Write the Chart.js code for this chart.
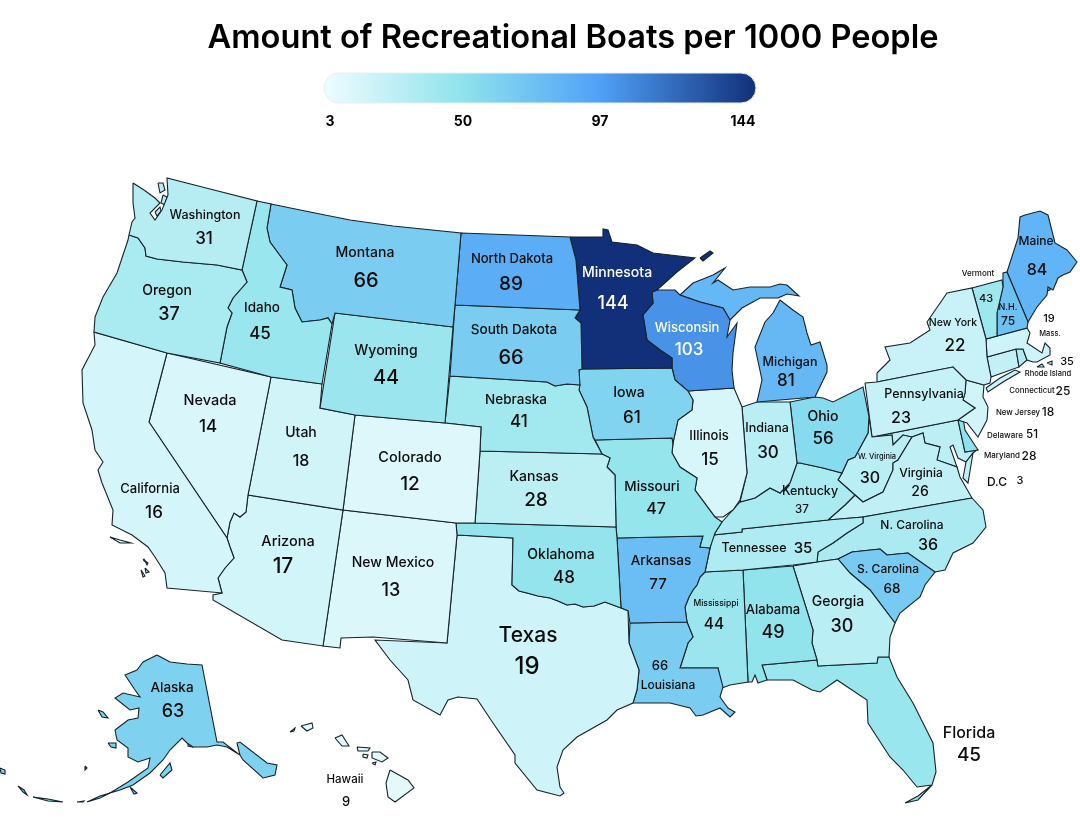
<!DOCTYPE html>
<html>
<head>
<meta charset="utf-8">
<title>Recreational Boats per 1000 People</title>
<script src="https://cdn.jsdelivr.net/npm/chart.js@4"></script>
<style>
  html, body { margin: 0; padding: 0; background: #fff; }
  canvas { display: block; }
</style>
</head>
<body>
<canvas id="boatMap" width="1080" height="831"></canvas>
<script>
// values per state
const stateNames = ['Washington','Oregon','California','Idaho','Nevada','Montana','Wyoming','Utah','Arizona','Colorado','New Mexico',
  'North Dakota','South Dakota','Nebraska','Kansas','Oklahoma','Texas','Minnesota','Iowa','Missouri','Arkansas','Louisiana',
  'Wisconsin','Illinois','Michigan','Indiana','Ohio','Kentucky','Tennessee','Mississippi','Alabama','Georgia','Florida',
  'S. Carolina','N. Carolina','Virginia','W. Virginia','Pennsylvania','New York','Vermont','N.H.','Maine','Mass.','Rhode Island',
  'Connecticut','New Jersey','Delaware','Maryland','D.C','Alaska','Hawaii'];
const stateValues = [31,37,16,45,14,66,44,18,17,12,13,89,66,41,28,48,19,144,61,47,77,66,103,15,81,30,56,37,35,44,49,30,45,68,36,26,30,23,22,43,75,84,19,35,25,18,51,28,3,63,9];

const legendTicks = [3,50,97,144];
const legendColors = ['#effcfe','#8fe3ec','#50a2f8','#12307a'];

const titleText = 'Amount of Recreational Boats per 1000 People';

// label placement: name x, y, size, value x, y, size (same order as stateNames)
const labelSpots = [
  [205,215,12.5,204,239,17],[167,291,14,169,315,18],[150,489,13,154,513,17],[262,308,13.5,260,334,17],[210,401,14.5,208,427,17],
  [365,253,14,366,281,20],[386,351,14,386,378,20],[301,433,14,301,461,16],[288,542,14.5,283,567,21],[410,458,14.5,410,484,19],[393,563,14,391,591,18],
  [512,259,13,511,284,19],[514,330,13.5,511,358,20],[516,400,13.5,519,422,17],[534,477,14,536,500,19],[561,555,14,564,578,17],[528,636,21,527,667,24],
  [617,273,14,613,304,18],[629,393,14,632,418,17],[652,487,13.5,656,509,16],[661,561,13.5,658,584,15],[668,685,12,660,666,13],
  [687,328,13,689,350,17],[709,436,13,710,460,17],[790,362,12.5,786,381,17],[767,428,12.5,768,453,17],[823,417,14,823,439,17],
  [810,491,12.5,802,510,11.5],[754,548,12.5,803,548,15],[716,603,8.5,714,624,15.5],[773,610,13,773,633,18],[838,602,14,842,627,18],[969,733,16,969,755,19],
  [888,569,12,892,589,13.5],[912,525,12,928,545,16],[921,473,12,920,492,14],[877,457,7.5,870,478,16],[924,394,12.5,901,418,16],[953,323,10.5,955,346,17],
  [978,274,8,986,299,11],[1008,307,9,1008,321,12],[1036,241,12,1037,270,16],[1050,334,7.5,1049,319,11],[1048,374,7.5,1067,362,11],
  [1032,391,7.8,1063,391,12],[1018,413,7.8,1048,412,12],[1005,436,8,1032,435,11.5],[1002,456,8,1029,456,12],[997,482,12,1020,481,11],
  [172,688,13.5,173,712,18],[345,780,11.5,346,802,13]
];

// state outlines, in map units
const outlines = {
  'Washington': [[[133,183],[144,190],[155,198],[160,203],[150,213],[155,220],[162,210],[168,195],[167,178],[210,189],[257,201],[242,270],[217,265],[183,262],[157,259],[146,256],[145,248],[138,238],[129,235],[132,222],[135,218],[133,203]],
    [[158,183],[163,183],[165,190],[160,193]],[[163,195],[167,197],[165,205],[161,203]],[[155,212],[160,207],[161,211],[157,216]]],
  'Oregon': [[[129,235],[138,238],[145,248],[146,256],[157,259],[183,262],[217,265],[242,270],[247,282],[233,298],[228,308],[232,313],[227,327],[220,363],[167,353],[94,332],[95,317],[103,297],[117,273],[128,240]]],
  'California': [[[94,332],[167,353],[149,422],[227,538],[230,547],[234,558],[225,568],[218,578],[222,593],[167,588],[165,573],[155,557],[148,547],[132,535],[112,525],[113,510],[102,483],[98,470],[103,462],[95,450],[92,430],[83,403],[82,370],[95,345]],
    [[110,537],[120,540],[131,543],[120,543]],[[145,561],[148,563],[147,565]],[[143,560],[144,559],[146,562]],[[145,568],[149,572],[146,573]],[[141,570],[145,576],[143,577]],[[99,432],[102,435],[100,445],[97,440]]],
  'Idaho': [[[257,201],[271,204],[267,228],[270,242],[287,265],[280,287],[292,290],[295,308],[302,322],[320,320],[328,318],[332,324],[322,384],[271,377],[220,363],[227,327],[232,313],[228,308],[233,298],[247,282],[242,270]]],
  'Nevada': [[[167,353],[271,377],[248,495],[246,512],[240,517],[234,513],[230,522],[227,538],[149,422]]],
  'Montana': [[[271,204],[310,212],[350,220],[393,226],[461,233],[455,305],[453,327],[335,313],[332,324],[328,318],[320,320],[302,322],[295,308],[292,290],[280,287],[287,265],[270,242],[267,228]]],
  'Wyoming': [[[335,313],[453,327],[445,423],[355,415],[320,408]]],
  'Utah': [[[271,377],[322,384],[320,408],[355,415],[343,510],[248,495]]],
  'Arizona': [[[248,495],[343,510],[323,646],[282,640],[213,600],[213,595],[222,593],[218,578],[225,568],[234,558],[230,547],[227,538],[230,522],[234,513],[240,517],[246,512]]],
  'Colorado': [[[355,415],[445,423],[481,427],[480,451],[475,523],[456,523],[343,510]]],
  'New Mexico': [[[343,510],[456,523],[457,535],[447,643],[373,637],[341,638],[340,648],[323,646]]],
  'North Dakota': [[[461,233],[570,237],[576,260],[580,310],[455,305]]],
  'South Dakota': [[[455,305],[580,310],[575,318],[581,323],[582,369],[579,370],[580,385],[567,384],[555,386],[547,382],[450,376]]],
  'Nebraska': [[[450,376],[547,382],[555,386],[567,384],[580,385],[579,390],[587,407],[593,437],[602,454],[480,451],[481,427],[445,423]]],
  'Kansas': [[[480,451],[602,454],[610,458],[607,467],[615,475],[616,527],[475,523]]],
  'Oklahoma': [[[456,523],[475,523],[616,527],[617,538],[621,608],[605,602],[594,606],[583,607],[575,604],[567,605],[558,601],[550,598],[538,596],[527,593],[519,591],[512,585],[513,538],[457,535]]],
  'Texas': [[[457,535],[513,538],[512,585],[519,591],[527,593],[538,596],[550,598],[558,601],[567,605],[575,604],[583,607],[594,606],[605,602],[621,608],[628,611],[629,643],[639,670],[637,690],[633,703],[617,710],[607,720],[577,737],[563,750],[557,767],[560,787],[564,793],[560,796],[537,790],[515,763],[515,755],[493,723],[477,699],[458,697],[448,700],[440,715],[413,700],[408,680],[390,660],[375,640],[447,643]]],
  'Minnesota': [[[570,237],[603,237],[603,229],[608,230],[612,242],[637,245],[653,253],[670,255],[695,258],[677,272],[657,290],[652,292],[653,303],[643,315],[647,340],[660,350],[672,358],[672,368],[582,369],[581,323],[575,318],[580,310],[576,260]],
    [[700,258],[710,251],[713,253],[703,261]]],
  'Iowa': [[[579,370],[582,369],[672,368],[675,380],[688,391],[693,400],[692,410],[678,420],[673,443],[672,438],[595,440],[593,437],[587,407],[579,390]]],
  'Missouri': [[[595,440],[672,438],[673,443],[672,453],[680,467],[697,478],[695,490],[715,517],[722,522],[715,533],[710,548],[700,547],[703,536],[617,538],[616,527],[615,475],[607,467],[610,458],[602,454]]],
  'Arkansas': [[[617,538],[703,536],[700,547],[710,548],[705,572],[700,577],[697,585],[693,590],[689,597],[685,607],[686,615],[687,622],[630,623],[628,611],[621,608]]],
  'Louisiana': [[[630,623],[687,622],[693,637],[688,643],[680,668],[718,668],[723,687],[720,697],[728,708],[735,712],[730,717],[720,708],[703,715],[696,716],[690,708],[670,703],[633,703],[637,690],[639,670],[629,643]]],
  'Wisconsin': [[[657,290],[675,290],[680,295],[700,302],[723,308],[730,320],[727,337],[737,323],[733,353],[732,370],[734,388],[688,391],[675,380],[672,368],[672,358],[660,350],[647,340],[643,315],[653,303],[652,292]]],
  'Illinois': [[[688,391],[734,388],[742,407],[747,473],[740,500],[733,510],[723,517],[715,517],[695,490],[697,478],[680,467],[672,453],[673,443],[678,420],[692,410],[693,400]]],
  'Michigan': [[[680,295],[693,283],[713,275],[725,268],[713,283],[718,280],[733,290],[750,287],[770,287],[780,284],[787,285],[799,296],[787,294],[778,298],[760,298],[742,308],[730,320],[723,308],[700,302]],
    [[773,313],[780,300],[793,310],[803,317],[807,333],[811,345],[820,342],[827,365],[827,372],[815,397],[757,402],[762,380],[755,347],[765,322]]],
  'Indiana': [[[742,407],[757,402],[790,402],[797,463],[790,483],[780,493],[770,488],[755,498],[740,502],[747,473]]],
  'Ohio': [[[790,402],[815,397],[823,398],[833,402],[863,387],[869,417],[868,433],[855,457],[848,460],[842,473],[823,468],[800,463],[797,463]]],
  'Kentucky': [[[797,463],[800,463],[823,468],[842,473],[838,480],[846,487],[855,495],[845,505],[828,520],[742,529],[742,532],[713,535],[715,533],[722,522],[740,502],[755,498],[770,488],[780,493],[790,483]]],
  'Tennessee': [[[863,517],[863,523],[847,533],[833,543],[818,552],[817,562],[793,565],[743,570],[705,572],[713,535],[742,532],[742,529],[828,520]]],
  'Mississippi': [[[705,572],[743,570],[748,682],[730,685],[722,688],[718,668],[680,668],[688,643],[693,637],[687,622],[686,615],[685,607],[689,597],[693,590],[697,585],[700,577]]],
  'Alabama': [[[743,570],[793,566],[813,630],[812,643],[817,660],[762,665],[767,680],[758,683],[755,675],[752,682],[748,682]]],
  'Georgia': [[[793,566],[817,562],[838,559],[850,573],[870,590],[895,623],[890,637],[889,657],[878,657],[877,663],[818,666],[817,660],[812,643],[813,630]]],
  'Florida': [[[762,665],[817,660],[818,666],[877,663],[878,657],[889,657],[897,677],[913,703],[933,743],[936,772],[932,785],[917,787],[903,770],[890,757],[877,737],[868,723],[867,700],[837,680],[820,692],[812,690],[793,680],[767,680]],
    [[905,803],[918,796],[932,785],[918,800]]],
  'S. Carolina': [[[838,559],[852,552],[880,549],[887,555],[908,553],[935,572],[925,585],[920,597],[900,613],[895,623],[870,590],[850,573]]],
  'N. Carolina': [[[972,498],[983,510],[986,527],[973,543],[953,553],[945,570],[935,572],[908,553],[887,555],[880,549],[852,552],[838,559],[817,562],[818,552],[833,543],[847,533],[863,523],[863,517]]],
  'Virginia': [[[855,495],[863,502],[883,492],[893,470],[893,463],[898,460],[912,437],[923,433],[925,443],[940,447],[937,460],[957,467],[960,477],[972,498],[863,517],[828,520],[845,505]],
    [[973,453],[968,483],[963,478],[966,462]]],
  'W. Virginia': [[[869,417],[872,437],[892,435],[893,445],[903,435],[912,437],[898,460],[893,463],[893,470],[883,492],[863,502],[855,495],[846,487],[838,480],[842,473],[848,460],[855,457],[868,433]]],
  'Pennsylvania': [[[865,383],[877,382],[953,367],[966,380],[965,393],[963,400],[975,408],[958,420],[872,437]]],
  'New York': [[[877,382],[877,373],[890,360],[885,347],[910,343],[930,330],[927,322],[947,293],[972,288],[980,317],[986,339],[987,357],[991,377],[990,383],[984,385],[966,380],[953,367]],
    [[986,388],[1000,378],[1015,370],[1020,372],[1003,382],[988,392]]],
  'Vermont': [[[972,288],[1002,280],[1003,287],[997,313],[997,336],[986,339],[980,317]]],
  'N.H.': [[[1003,287],[1003,273],[1007,272],[1028,322],[1027,328],[997,336],[997,313]]],
  'Maine': [[[1007,272],[1018,238],[1020,217],[1025,215],[1040,211],[1048,215],[1055,243],[1067,250],[1077,262],[1070,272],[1063,275],[1058,278],[1053,290],[1048,287],[1047,295],[1037,307],[1028,322]],
    [[1050,282],[1055,279],[1056,283],[1052,286]],[[1047,286],[1051,286],[1050,290],[1047,291]]],
  'Mass.': [[[986,339],[997,336],[1027,328],[1030,333],[1027,343],[1042,353],[1045,343],[1050,348],[1050,355],[1037,362],[1033,362],[1027,360],[1023,349],[1016,349],[987,357]],
    [[1037,367],[1042,364],[1044,367]],[[1047,363],[1052,361],[1052,365]]],
  'Rhode Island': [[[1016,349],[1023,349],[1027,360],[1019,367]]],
  'Connecticut': [[[987,357],[1016,349],[1019,367],[991,377]]],
  'New Jersey': [[[966,380],[984,385],[983,397],[988,407],[987,420],[978,437],[967,423],[958,420],[975,408],[963,400],[965,393]]],
  'Delaware': [[[958,420],[963,418],[965,430],[978,450],[965,452]]],
  'Maryland': [[[872,437],[958,420],[965,452],[977,450],[973,453],[966,462],[958,458],[953,445],[950,447],[957,467],[937,460],[940,447],[925,443],[923,433],[912,437],[903,435],[893,445],[892,435]]],
  'D.C': [],
  'Alaska': [[[157,655],[170,662],[187,664],[202,665],[217,742],[223,742],[240,755],[243,760],[263,778],[275,775],[277,765],[267,763],[240,742],[237,743],[240,755],[227,747],[217,745],[207,747],[193,747],[187,743],[182,738],[170,750],[163,760],[150,773],[133,785],[120,790],[110,793],[128,782],[148,768],[150,758],[138,762],[128,757],[128,748],[117,740],[115,730],[128,720],[138,718],[139,708],[130,710],[115,698],[123,693],[140,697],[135,690],[125,675],[137,670],[143,662]],
    [[98,710],[103,712],[108,718],[102,717]],[[108,743],[116,743],[116,748],[111,747]],[[160,775],[170,763],[172,770],[163,778]],
    [[33,797],[48,799],[63,802],[48,801]],[[77,802],[84,801],[83,802]],[[87,802],[100,796],[110,793],[100,798]],[[18,786],[24,790],[27,795],[23,792]],[[0,768],[5,770],[5,774],[1,773]],[[85,766],[87,768],[85,770]],[[130,787],[137,793],[134,794]],
    [[188,741],[194,742],[193,747],[188,746]],[[245,752],[252,757],[250,760],[244,756]],[[255,762],[262,767],[259,770],[253,765]],[[265,770],[272,772],[268,775]]],
  'Hawaii': [[[390,770],[408,780],[414,788],[395,802],[388,797],[386,783]],
    [[372,752],[380,752],[388,758],[382,762],[372,758]],[[357,747],[370,748],[368,751],[358,751]],[[363,754],[368,755],[367,758],[363,757]],[[372,763],[376,762],[375,765]],
    [[335,738],[342,735],[349,746],[342,746]],[[301,726],[312,723],[313,728],[307,731]],[[290,732],[295,728],[294,731]]]
};

// colour scale from the legend
function hexToRgb(hex) {
  return [1, 3, 5].map(i => parseInt(hex.slice(i, i + 2), 16));
}
function valueColor(v) {
  let i = 0;
  while (i < legendTicks.length - 2 && v > legendTicks[i + 1]) i++;
  const t = (v - legendTicks[i]) / (legendTicks[i + 1] - legendTicks[i]);
  const a = hexToRgb(legendColors[i]);
  const b = hexToRgb(legendColors[i + 1]);
  const c = a.map((n, k) => Math.round(n + (b[k] - n) * t));
  return `rgb(${c[0]},${c[1]},${c[2]})`;
}

// one dataset per closed ring
const datasets = [];
stateNames.forEach((name, i) => {
  outlines[name].forEach(ring => {
    const pts = ring.concat([ring[0]]).map(p => ({ x: p[0], y: p[1] }));
    datasets.push({
      label: name,
      data: pts,
      showLine: true,
      fill: 'shape',
      tension: 0,
      borderColor: '#16232a',
      borderWidth: 1.1,
      backgroundColor: valueColor(stateValues[i]),
      pointRadius: 0,
      pointHoverRadius: 0
    });
  });
});

// title, colour bar and state labels
const mapText = {
  id: 'mapText',
  afterDatasetsDraw(chart) {
    const { ctx, scales: { x, y } } = chart;
    const fontFamily = 'Inter, "Noto Sans", sans-serif';
    ctx.save();
    ctx.textAlign = 'center';
    ctx.textBaseline = 'middle';

    ctx.fillStyle = '#000';
    ctx.font = `600 32.6px ${fontFamily}`;
    ctx.fillText(titleText, x.getPixelForValue(573), y.getPixelForValue(38));

    // colour bar
    const left = x.getPixelForValue(324), right = x.getPixelForValue(756);
    const top = y.getPixelForValue(73), bottom = y.getPixelForValue(103);
    const grad = ctx.createLinearGradient(left, 0, right, 0);
    [0, 0.32, 0.635, 1].forEach((p, i) => grad.addColorStop(p, legendColors[i]));
    ctx.fillStyle = grad;
    ctx.strokeStyle = '#e6eef0';
    ctx.lineWidth = 1;
    ctx.beginPath();
    ctx.roundRect(left, top, right - left, bottom - top, 15);
    ctx.fill();
    ctx.stroke();

    ctx.fillStyle = '#000';
    ctx.font = `700 14px ${fontFamily}`;
    [330, 463, 600, 743].forEach((tx, i) => {
      ctx.fillText(String(legendTicks[i]), x.getPixelForValue(tx), y.getPixelForValue(122));
    });

    stateNames.forEach((name, i) => {
      const [nx, ny, ns, vx, vy, vs] = labelSpots[i];
      ctx.fillStyle = stateValues[i] > 100 ? '#fff' : '#0c0c0c';
      ctx.font = `500 ${ns}px ${fontFamily}`;
      ctx.fillText(name, x.getPixelForValue(nx), y.getPixelForValue(ny));
      ctx.font = `500 ${vs}px ${fontFamily}`;
      ctx.fillText(String(stateValues[i]), x.getPixelForValue(vx), y.getPixelForValue(vy));
    });
    ctx.restore();
  }
};

new Chart(document.getElementById('boatMap'), {
  type: 'scatter',
  data: { datasets },
  plugins: [mapText],
  options: {
    responsive: false,
    animation: false,
    layout: { padding: 0 },
    clip: false,
    plugins: { legend: { display: false }, tooltip: { enabled: false } },
    scales: {
      x: { type: 'linear', display: false, min: 0, max: 1080 },
      y: { type: 'linear', display: false, min: 0, max: 831, reverse: true }
    }
  }
});
</script>
</body>
</html>
